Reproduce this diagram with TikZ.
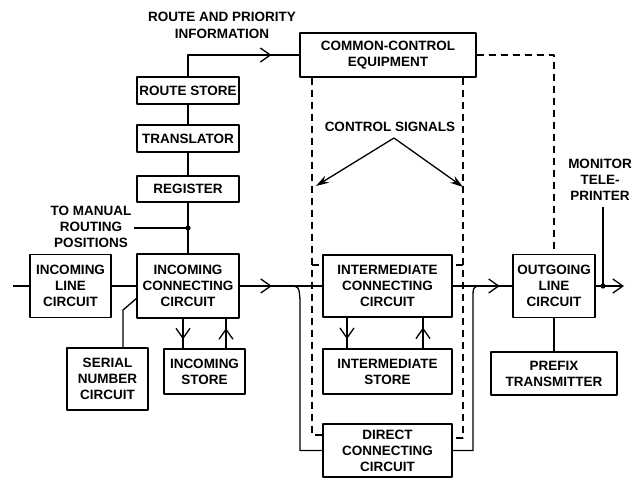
\documentclass[tikz,border=0pt]{standalone}
\usepackage{fontspec}
\setmainfont{Liberation Sans}
\usetikzlibrary{arrows.meta,decorations.markings}
\begin{document}
\begin{tikzpicture}[x=1pt,y=-1pt,line width=1.3pt,line join=round,
  txt/.style={font=\bfseries\fontsize{13.5}{16}\selectfont},
  box/.style={draw,line width=1.4pt,inner sep=0pt,align=center,txt},
  lbl/.style={inner sep=0pt,align=center,txt},
  dsh/.style={dash pattern=on 7pt off 5pt,line width=1.2pt},
  barb/.tip={Straight Barb[length=10pt,width=14pt,line width=1.3pt]},
  marr/.style={postaction={decorate},decoration={markings,mark=at position #1 with {\arrow{barb}}}},
  sig/.style={-{Stealth[length=13pt,width=8pt]}}]
\useasboundingbox (0,0) rectangle (633,485);
% boxes
\node[box,minimum width=176,minimum height=44] (cc) at (388,55) {COMMON-CONTROL\\EQUIPMENT};
\node[box,minimum width=102,minimum height=27] (rs) at (188,90.5) {ROUTE STORE};
\node[box,minimum width=102,minimum height=27] (tr) at (188,138.5) {TRANSLATOR};
\node[box,minimum width=102,minimum height=26] (rg) at (188,189) {REGISTER};
\node[box,minimum width=81,minimum height=63] (ilc) at (70.5,286) {INCOMING\\LINE\\CIRCUIT};
\node[box,minimum width=102,minimum height=64] (icc) at (188,286) {INCOMING\\CONNECTING\\CIRCUIT};
\node[box,minimum width=81,minimum height=62] (snc) at (107.5,379) {SERIAL\\NUMBER\\CIRCUIT};
\node[box,minimum width=81,minimum height=45] (ist) at (204.5,371.5) {INCOMING\\STORE};
\node[box,minimum width=129,minimum height=62] (imc) at (387.5,286) {INTERMEDIATE\\CONNECTING\\CIRCUIT};
\node[box,minimum width=129,minimum height=45] (ims) at (387.5,371.5) {INTERMEDIATE\\STORE};
\node[box,minimum width=129,minimum height=53] (dcc) at (387.5,450.5) {DIRECT\\CONNECTING\\CIRCUIT};
\node[box,minimum width=82,minimum height=63] (olc) at (554,286) {OUTGOING\\LINE\\CIRCUIT};
\node[box,minimum width=126,minimum height=43] (pt) at (554,373.5) {PREFIX\\TRANSMITTER};
% labels
\node[lbl,font=\bfseries\fontsize{13.5}{17}\selectfont] (rp) at (222,25) {ROUTE AND PRIORITY\\INFORMATION};
\node[lbl] (man) at (91,227) {TO MANUAL\\ROUTING\\POSITIONS};
\node[lbl] (cs) at (390,127) {CONTROL SIGNALS};
\node[lbl] (mon) at (600,180) {MONITOR\\TELE-\\PRINTER};
% coordinates
\coordinate (dm) at (188,228);
\coordinate (in) at (13,286);
\coordinate (s1) at (123,310);
\coordinate (s2) at (137,298);
\coordinate (b1) at (287,286);
\coordinate (b2) at (300,300);
\coordinate (j1) at (473,298);
\coordinate (j2) at (486,286);
\coordinate (dt) at (603,286);
\coordinate (out) at (624,286);
\coordinate (dl1) at (312,435);
\coordinate (dl2) at (312,265);
\coordinate (dr1) at (463,438);
\coordinate (dr2) at (463,265);
\coordinate (c0) at (394,138);
\coordinate (cl) at (316,186);
\coordinate (cr) at (463,187);
% solid connectors
\draw[marr=0.79] (rs.north) |- (cc.west);
\draw (rs.south) -- (tr.north);
\draw (tr.south) -- (rg.north);
\draw (rg.south) -- (icc.north);
\draw ([xshift=2pt]man.east |- dm) -- (dm);
\fill (dm) circle (2.6pt);
\draw (in) -- (ilc.west);
\draw (ilc.east) -- (icc.west);
\draw (snc.north -| s1) -- (s1) -- (s2);
\draw[marr=0.7] ([xshift=-5pt]icc.south) -- ([xshift=-5pt]icc.south |- ist.north);
\draw[marr=0.68] ([xshift=38pt]icc.south |- ist.north) -- ([xshift=38pt]icc.south);
\draw[marr=0.39] (icc.east) -- (imc.west);
\draw (b1) .. controls (299,286) .. (b2) |- (dcc.west);
\draw[marr=0.7] ([xshift=-40.5pt]imc.south) -- ([xshift=-40.5pt]imc.south |- ims.north);
\draw[marr=0.68] ([xshift=35.5pt]imc.south |- ims.north) -- ([xshift=35.5pt]imc.south);
\draw[marr=0.79] (imc.east) -- (olc.west);
\draw (dcc.east) -| (j1) .. controls (473,286) .. (j2);
\draw[-{barb}] (olc.east) -- (out);
\draw ([yshift=-6pt]mon.south -| dt) -- (dt);
\fill (dt) circle (2.6pt);
\draw (olc.south) -- (pt.north);
% dashed control lines
\draw[dsh] (cc.south -| dl1) -- (dl1) -- (dl1 -| dcc.west);
\draw[dsh] (dl2) -- (dl2 -| imc.west);
\draw[dsh] (cc.south -| dr1) -- (dr1) -- (dr1 -| dcc.east);
\draw[dsh] (dr2) -- (dr2 -| imc.east);
\draw[dsh] (cc.east) -| (olc.north);
% control signal arrows
\draw[sig] (c0) -- (cl);
\draw[sig] (c0) -- (cr);
\end{tikzpicture}
\end{document}
